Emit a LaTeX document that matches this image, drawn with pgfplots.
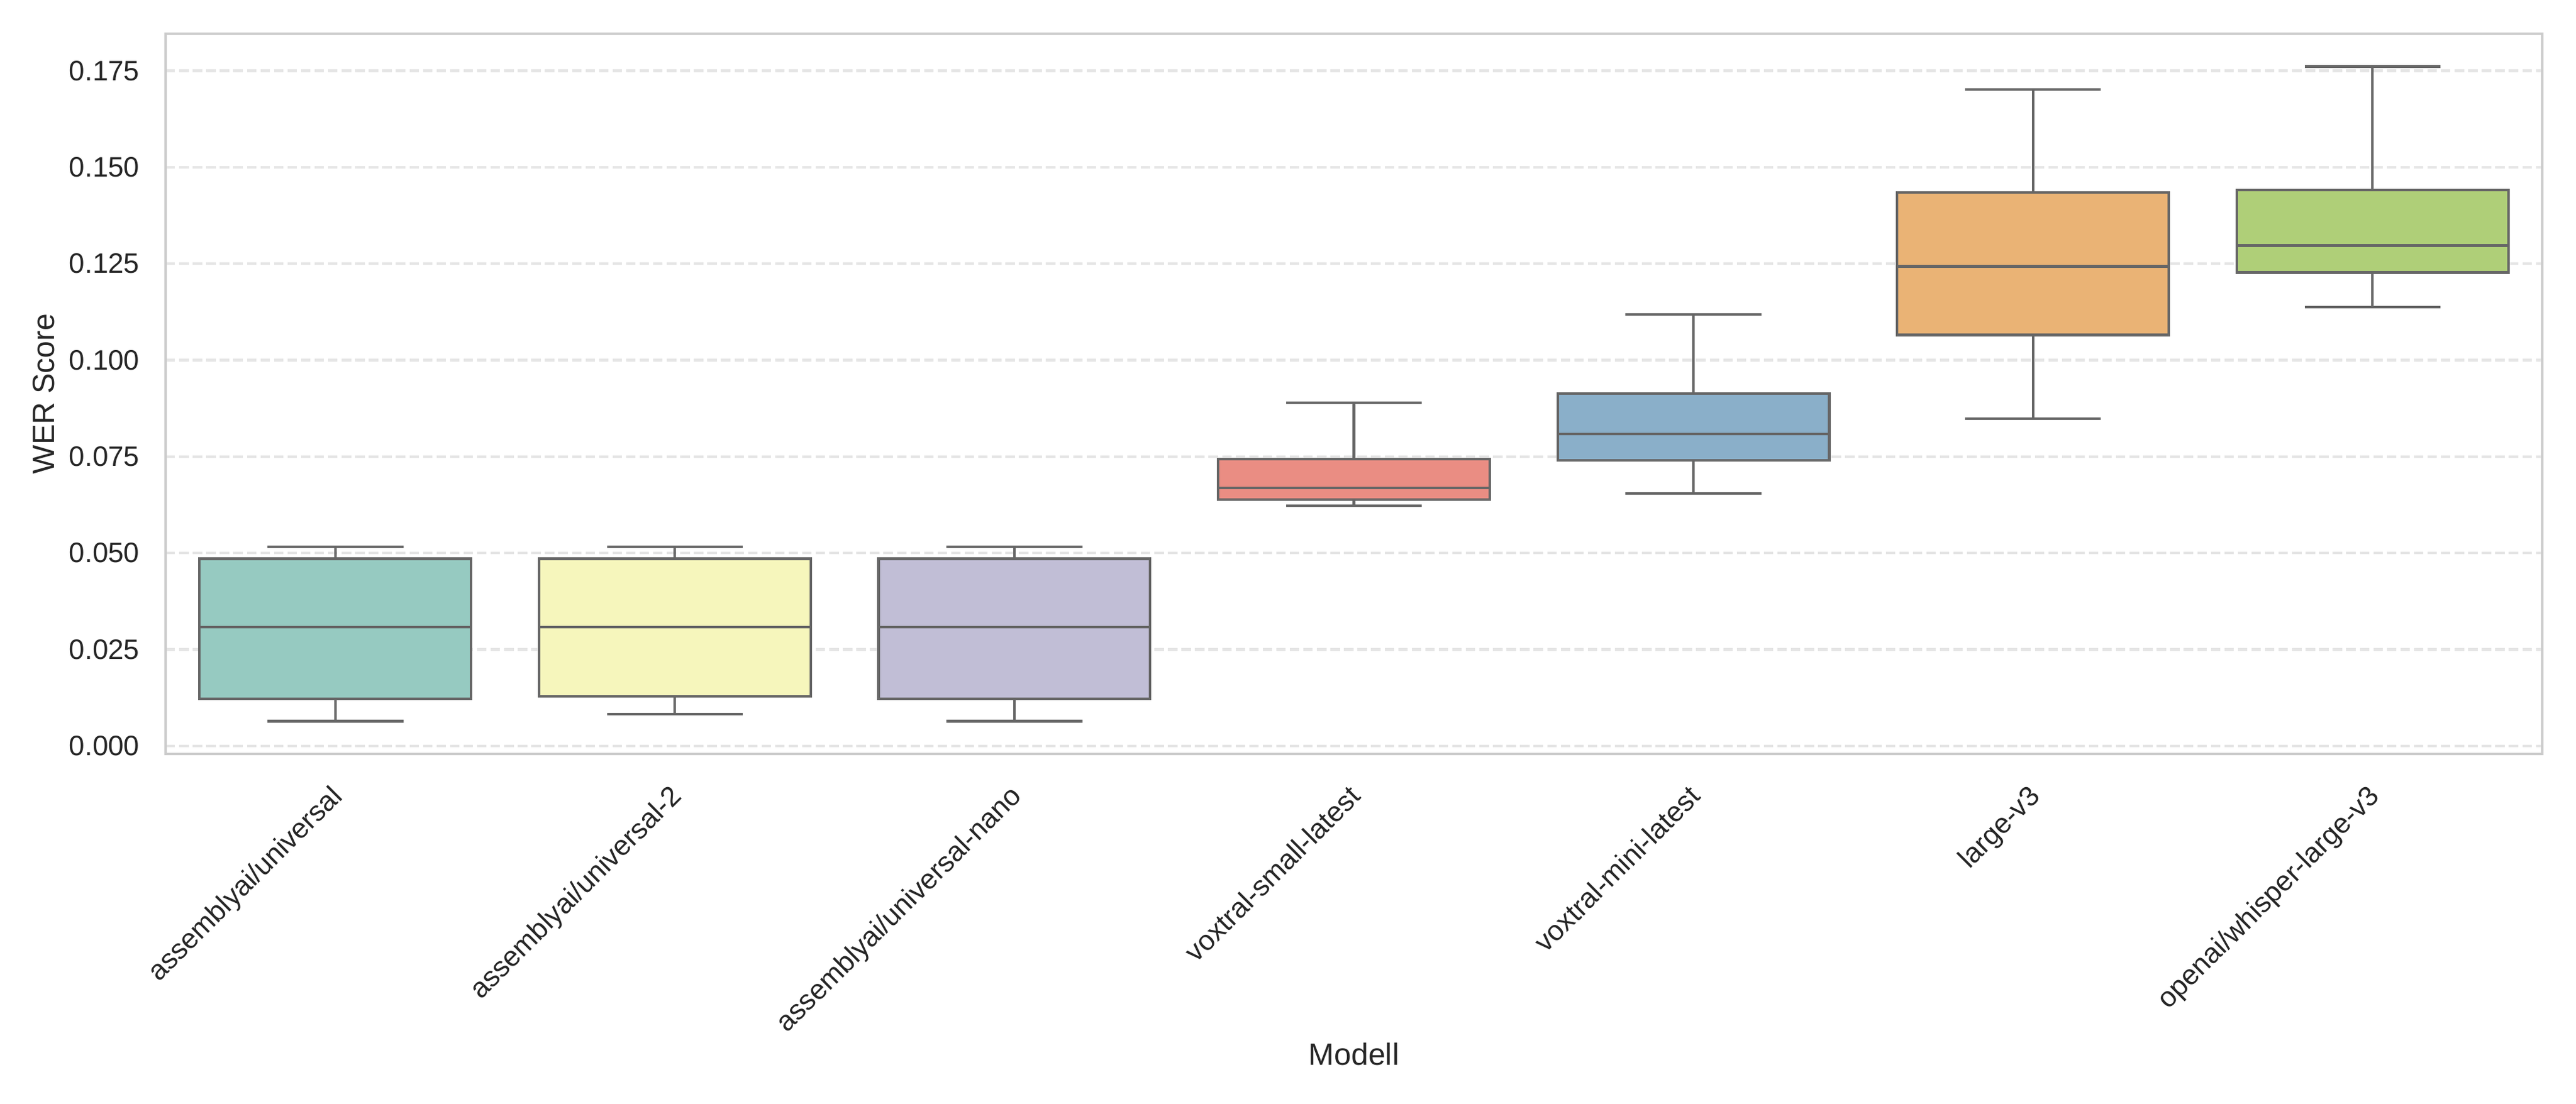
\documentclass[border=0pt]{standalone}
\usepackage{fontspec}
\setmainfont{Liberation Sans}
\usepackage{pgfplots}
\pgfplotsset{compat=1.18}
\usepgfplotslibrary{statistics}

% seaborn Set3, desaturated
\definecolor{cA}{RGB}{150,202,193}
\definecolor{cB}{RGB}{246,246,188}
\definecolor{cC}{RGB}{193,190,214}
\definecolor{cD}{RGB}{234,141,131}
\definecolor{cE}{RGB}{138,175,201}
\definecolor{cF}{RGB}{234,179,117}
\definecolor{cG}{RGB}{175,207,120}
\definecolor{edge}{RGB}{102,102,102}
\definecolor{gridc}{RGB}{229,229,229}
\definecolor{framec}{RGB}{204,204,204}
\definecolor{txt}{RGB}{38,38,38}

\begin{document}
\begin{tikzpicture}
\path[use as bounding box] (0,0) rectangle (1008pt,432pt);
\begin{axis}[
    at={(64.8pt,136.8pt)}, anchor=south west,
    scale only axis,
    width=930pt, height=282pt,
    xmin=-0.5, xmax=6.5,
    ymin=-0.0021, ymax=0.1846,
    xtick={0,1,2,3,4,5,6},
    xticklabels={assemblyai/universal, assemblyai/universal-2, assemblyai/universal-nano,
        voxtral-small-latest, voxtral-mini-latest, large-v3, openai/whisper-large-v3},
    ytick={0,0.025,0.05,0.075,0.1,0.125,0.15,0.175},
    scaled y ticks=false,
    /pgf/number format/assume math mode=true,
    major tick length=0pt,
    ymajorgrids,
    grid style={draw=gridc, line width=1pt, dash pattern=on 3.7pt off 1.6pt},
    axis line style={draw=framec, line width=1pt},
    tick label style={font=\fontsize{11}{13}\selectfont, text=txt},
    yticklabel style={inner sep=0pt, xshift=-10pt,
        /pgf/number format/fixed, /pgf/number format/fixed zerofill,
        /pgf/number format/precision=3},
    % shifts act in the rotated frame
    xticklabel style={inner sep=0pt, rotate=45, anchor=north east, xshift=-9.7pt, yshift=-6.3pt},
    label style={font=\fontsize{12}{14}\selectfont, text=txt},
    xlabel={Modell},
    ylabel={WER Score},
    xlabel style={at={(axis description cs:0.5,0)}, anchor=center, yshift=-117.6pt},
    ylabel style={at={(axis description cs:0,0.5)}, anchor=center, yshift=47.6pt},
    boxplot/draw direction=y,
    boxplot/box extend=0.8,
    boxplot/whisker extend=0.4,
]
% assemblyai/universal
\addplot[draw=edge, line width=1pt, boxplot/every box/.style={fill=cA},
    boxplot prepared={draw position=0, lower whisker=0.0064, lower quartile=0.0122,
        median=0.0308, upper quartile=0.0485, upper whisker=0.0516}] coordinates {};
% assemblyai/universal-2
\addplot[draw=edge, line width=1pt, boxplot/every box/.style={fill=cB},
    boxplot prepared={draw position=1, lower whisker=0.0082, lower quartile=0.0128,
        median=0.0308, upper quartile=0.0485, upper whisker=0.0516}] coordinates {};
% assemblyai/universal-nano
\addplot[draw=edge, line width=1pt, boxplot/every box/.style={fill=cC},
    boxplot prepared={draw position=2, lower whisker=0.0064, lower quartile=0.0122,
        median=0.0308, upper quartile=0.0485, upper whisker=0.0516}] coordinates {};
% voxtral-small-latest
\addplot[draw=edge, line width=1pt, boxplot/every box/.style={fill=cD},
    boxplot prepared={draw position=3, lower whisker=0.0622, lower quartile=0.0638,
        median=0.0669, upper quartile=0.0743, upper whisker=0.0889}] coordinates {};
% voxtral-mini-latest
\addplot[draw=edge, line width=1pt, boxplot/every box/.style={fill=cE},
    boxplot prepared={draw position=4, lower whisker=0.0654, lower quartile=0.0740,
        median=0.0809, upper quartile=0.0913, upper whisker=0.1118}] coordinates {};
% large-v3
\addplot[draw=edge, line width=1pt, boxplot/every box/.style={fill=cF},
    boxplot prepared={draw position=5, lower whisker=0.0848, lower quartile=0.1065,
        median=0.1243, upper quartile=0.1435, upper whisker=0.1702}] coordinates {};
% openai/whisper-large-v3
\addplot[draw=edge, line width=1pt, boxplot/every box/.style={fill=cG},
    boxplot prepared={draw position=6, lower whisker=0.1137, lower quartile=0.1227,
        median=0.1297, upper quartile=0.1441, upper whisker=0.1761}] coordinates {};
\end{axis}
\end{tikzpicture}
\end{document}
